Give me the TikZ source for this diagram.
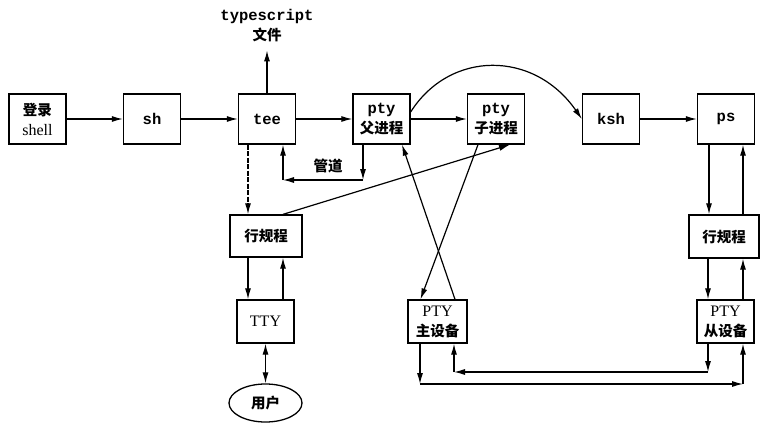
\documentclass[tikz,border=0pt]{standalone}
\usepackage{fontspec}
\setmainfont{Liberation Serif}
\setmonofont{Liberation Mono}
\newfontfamily\cjk{Noto Sans CJK SC}
\newcommand{\zh}[1]{{\fontsize{14.5}{20}\selectfont\cjk\bfseries #1}}
\newcommand{\cmd}[1]{{\fontsize{15.5}{20}\selectfont\ttfamily\bfseries #1}}
\usetikzlibrary{arrows.meta, positioning, shapes.geometric}

\begin{document}
\begin{tikzpicture}[
  x=1pt, y=-1pt,
  font=\fontsize{16}{20}\selectfont,
  box/.style={draw, line width=1.3pt, minimum width=57pt, minimum height=50pt, inner sep=1pt, align=center},
  lowbox/.style={box, minimum height=43pt},
  arr/.style={-{Latex[length=11pt,width=6pt]}, line width=1.2pt}]
\useasboundingbox (0,0) rectangle (760,423);
% top row of processes
\node[box] (login) at (37.5,119) {\zh{登录}\\shell};
\node[box] (sh) at (152,119) {\cmd{sh}};
\node[box] (tee) at (267,119) {\cmd{tee}};
\node[box] (ptyp) at (381.5,119) {\cmd{pty}\\\zh{父进程}};
\node[box] (ptyc) at (496,119) {\cmd{pty}\\\zh{子进程}};
\node[box] (ksh) at (611,119) {\cmd{ksh}};
\node[box] (ps) at (726,119) {\cmd{ps}};
\node[align=center, inner sep=0pt] (file) at (267,26) {\cmd{typescript}\\\zh{文件}};
% terminal side
\node[box, minimum width=72pt, minimum height=42pt] (ldL) at (266,236) {\zh{行规程}};
\node[lowbox] (tty) at (265.5,321.5) {TTY};
\node[draw, line width=1.3pt, ellipse, minimum width=73pt, minimum height=38pt] (user) at (265.5,403) {\zh{用户}};
% pseudo terminal
\node[lowbox, minimum width=59pt] (ptym) at (437.5,321.5) {PTY\\\zh{主设备}};
\node[box, minimum width=70pt, minimum height=43pt] (ldR) at (724,236.5) {\zh{行规程}};
\node[lowbox] (ptys) at (725.5,321.5) {PTY\\\zh{从设备}};
% process chain
\draw[arr] (login) -- (sh);
\draw[arr] (sh) -- (tee);
\draw[arr] (tee) -- (ptyp);
\draw[arr] (ptyp) -- (ptyc);
\draw[arr] (ksh) -- (ps);
\draw[arr, shorten >=8pt] (tee) -- (file);
\draw[arr] ([yshift=7pt]ptyp.east) .. controls (450,50) and (534,50) .. (ksh.west);
% pipe back to tee
\coordinate (pipeR) at (363,180);
\coordinate (pipeL) at (283,180);
\draw[arr] (ptyp.south -| pipeR) -- (pipeR);
\draw[arr] (pipeR) -- (pipeL);
\draw[arr] (pipeL) -- (tee.south -| pipeL);
\node (pipe) at (328,166) {\zh{管道}};
% terminal side arrows
\draw[arr, dash pattern=on 5pt off 1.5pt] ([xshift=-19pt]tee.south) -- ([xshift=-19pt]tee.south |- ldL.north);
\draw[arr] ([xshift=-18pt]ldL.south) -- ([xshift=-18pt]ldL.south |- tty.north);
\draw[arr] ([xshift=17pt]ldL.south |- tty.north) -- ([xshift=17pt]ldL.south);
\draw[{Latex[length=11pt,width=6pt]}-{Latex[length=11pt,width=6pt]}, line width=1.2pt] (tty) -- (user);
% crossing lines
\draw[arr] ([xshift=17pt]ldL.north) -- ([xshift=14pt]ptyc.south);
\draw[arr] ([xshift=-18pt]ptyc.south) -- ([xshift=-17pt]ptym.north);
\draw[arr] ([xshift=17.5pt]ptym.north) -- ([xshift=20.5pt]ptyp.south);
% right column
\draw[arr] ([xshift=-17pt]ps.south) -- ([xshift=-17pt]ps.south |- ldR.north);
\draw[arr] ([xshift=17pt]ps.south |- ldR.north) -- ([xshift=17pt]ps.south);
\draw[arr] ([xshift=-16pt]ldR.south) -- ([xshift=-16pt]ldR.south |- ptys.north);
\draw[arr] ([xshift=19pt]ldR.south |- ptys.north) -- ([xshift=19pt]ldR.south);
% master / slave loops
\coordinate (mR) at (708,372);
\coordinate (mL) at (454,372);
\draw[arr] (ptys.south -| mR) -- (mR);
\draw[arr] (mR) -- (mL);
\draw[arr] (mL) -- (ptym.south -| mL);
\coordinate (sL) at (420,384);
\coordinate (sR) at (743,384);
\draw[arr] (ptym.south -| sL) -- (sL);
\draw[arr] (sL) -- (sR);
\draw[arr] (sR) -- (ptys.south -| sR);
\end{tikzpicture}
\end{document}
